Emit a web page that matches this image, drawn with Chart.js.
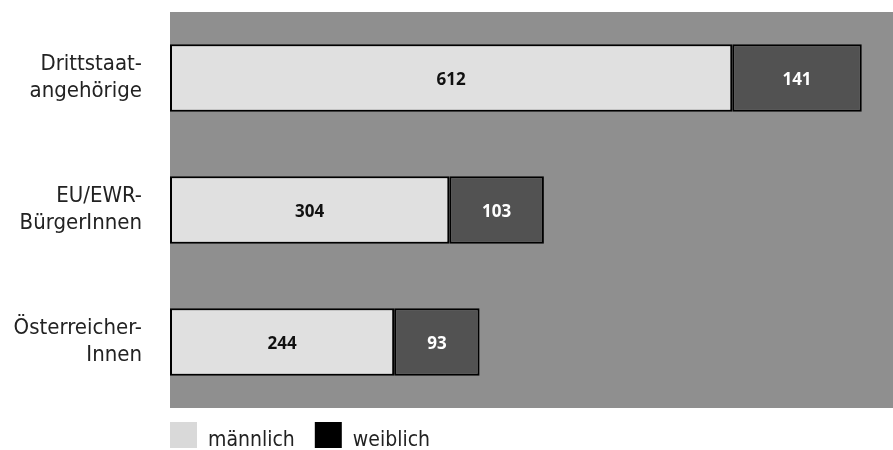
<!DOCTYPE html>
<html>
<head>
<meta charset="utf-8">
<script src="https://cdn.jsdelivr.net/npm/chart.js@4/dist/chart.umd.min.js"></script>
<style>
  html, body { margin: 0; padding: 0; background: #fff; }
  #wrap { width: 893px; height: 450px; position: relative; }
</style>
</head>
<body>
<div id="wrap"><canvas id="chart"></canvas></div>
<script>
const categories = [['Drittstaat-', 'angehörige'], ['EU/EWR-', 'BürgerInnen'], ['Österreicher-', 'Innen']];
const maleValues = [612, 304, 244];
const femaleValues = [141, 103, 93];
const seriesNames = ['männlich', 'weiblich'];
const legendColors = ['#d9d9d9', '#000'];

const condensed = '"DejaVu Sans Condensed", "Liberation Sans Narrow", sans-serif';

// gray plot background
const plotBackground = {
    id: 'plotBackground',
    beforeDraw(chart) {
        const { ctx, chartArea } = chart;
        ctx.save();
        ctx.fillStyle = '#8f8f8f';
        ctx.fillRect(chartArea.left, chartArea.top, chartArea.right - chartArea.left, chartArea.bottom - chartArea.top);
        ctx.restore();
    }
};

// value labels in the middle of each bar segment
const barLabels = {
    id: 'barLabels',
    afterDatasetsDraw(chart) {
        const ctx = chart.ctx;
        ctx.save();
        ctx.font = 'bold 17px "Open Sans", sans-serif';
        ctx.textAlign = 'center';
        ctx.textBaseline = 'middle';
        chart.data.datasets.forEach((ds, i) => {
            chart.getDatasetMeta(i).data.forEach((bar, j) => {
                const p = bar.getProps(['x', 'y', 'base'], true);
                ctx.fillStyle = i === 0 ? '#111' : '#fff';
                ctx.fillText(ds.data[j], (p.x + p.base) / 2, p.y + 2);
            });
        });
        ctx.restore();
    }
};

// legend under the plot, starting at the plot's left edge
const bottomLegend = {
    id: 'bottomLegend',
    afterDraw(chart) {
        const { ctx, chartArea } = chart;
        ctx.save();
        ctx.font = '21px ' + condensed;
        ctx.textBaseline = 'alphabetic';
        let x = chartArea.left;
        const top = chartArea.bottom + 14;
        seriesNames.forEach((name, i) => {
            ctx.fillStyle = legendColors[i];
            ctx.fillRect(x, top, 27, 26);
            x += 27 + 11;
            ctx.fillStyle = '#222';
            ctx.fillText(name, x, top + 24);
            x += ctx.measureText(name).width + 20;
        });
        ctx.restore();
    }
};

const ctx = document.getElementById('chart').getContext('2d');
new Chart(ctx, {
    type: 'bar',
    data: {
        labels: categories,
        datasets: [{
            label: seriesNames[0],
            data: maleValues,
            backgroundColor: '#e0e0e0',
            borderColor: '#000',
            borderWidth: 2,
            borderSkipped: false,
            categoryPercentage: 1,
            barPercentage: 0.51
        }, {
            label: seriesNames[1],
            data: femaleValues,
            backgroundColor: '#525252',
            borderColor: '#000',
            borderWidth: 2,
            borderSkipped: false,
            categoryPercentage: 1,
            barPercentage: 0.51
        }]
    },
    options: {
        indexAxis: 'y',
        responsive: true,
        maintainAspectRatio: false,
        animation: false,
        layout: { padding: { top: 12, right: 0, bottom: 42, left: 0 } },
        scales: {
            x: {
                stacked: true,
                display: false,
                min: 0,
                max: 787
            },
            y: {
                stacked: true,
                grid: { display: false },
                border: { display: false },
                ticks: {
                    color: '#222',
                    padding: 20,
                    font: { family: condensed, size: 22, lineHeight: 1.22 }
                },
                afterFit(scale) {
                    scale.width = 170;
                    scale.paddingTop = 0;
                    scale.paddingBottom = 0;
                }
            }
        },
        plugins: {
            tooltip: { enabled: false },
            legend: { display: false }
        }
    },
    plugins: [plotBackground, barLabels, bottomLegend]
});
</script>
</body>
</html>
